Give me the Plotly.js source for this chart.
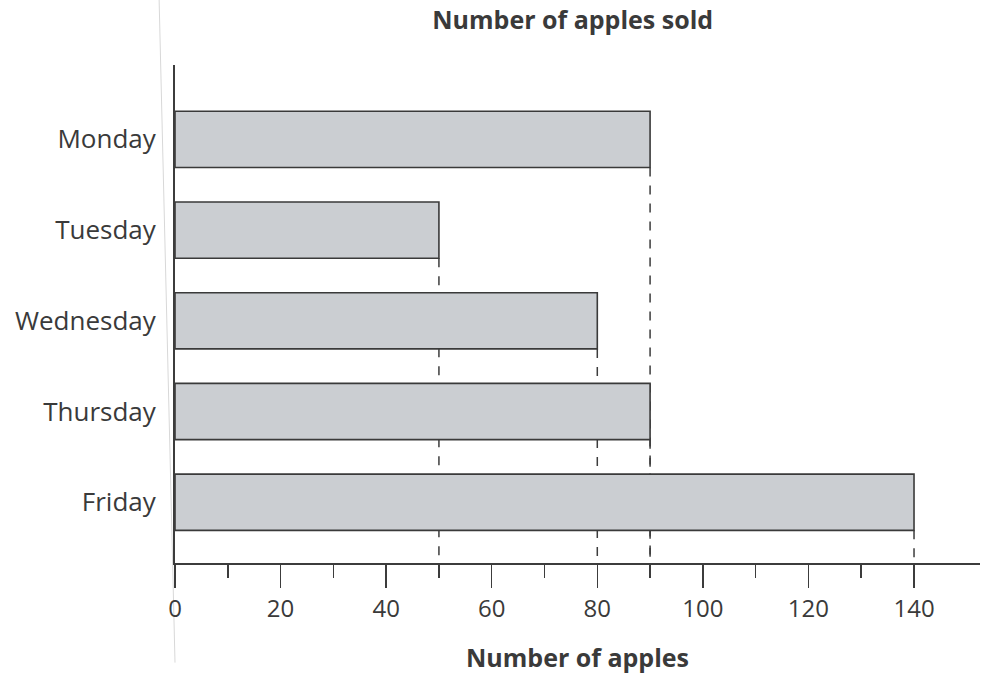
<!DOCTYPE html>
<html>
<head>
<meta charset="utf-8">
<script src="https://cdn.plot.ly/plotly-3.0.1.min.js"></script>
<style>html,body{margin:0;padding:0;background:#fff;}#chart{width:984px;height:675px;}</style>
</head>
<body>
<div id="chart"></div>
<script>
const days = ["Monday", "Tuesday", "Wednesday", "Thursday", "Friday"];
const applesSold = [90, 50, 80, 90, 140];
const xTickVals = [0, 20, 40, 60, 80, 100, 120, 140];
const xTickText = ["0", "20", "40", "60", "80", "100", "120", "140"];
const xMinorTickVals = [10, 30, 50, 70, 90, 110, 130];

const barWidth = 0.62;
const yBottom = 4.67;
const textColor = "#3a3a3a";
const lineColor = "#3c3c3c";

const shapes = applesSold.map((v, i) => ({
  type: "line", xref: "x", yref: "y",
  x0: v, x1: v, y0: i + barWidth / 2, y1: yBottom,
  line: { color: lineColor, width: 1.5, dash: "dash" },
  layer: "below"
}));
// faint page-edge line from the scan
shapes.push({ type: "line", xref: "paper", yref: "paper", x0: -0.02, x1: 0.0, y0: 1.15, y1: -0.2,
  line: { color: "#d8d8d8", width: 1 }, layer: "below" });

const trace = {
  type: "bar",
  orientation: "h",
  y: days,
  x: applesSold,
  width: barWidth,
  marker: { color: "#cbced2", line: { color: "#3a3a3a", width: 1.6 } },
  hoverinfo: "x+y"
};

const layout = {
  width: 984, height: 675,
  margin: { l: 175, r: 4, t: 65, b: 112 },
  paper_bgcolor: "#ffffff", plot_bgcolor: "#ffffff",
  font: { family: "Open Sans, sans-serif", color: textColor },
  showlegend: false,
  title: {
    text: "<b>Number of apples sold</b>",
    font: { size: 25, color: textColor },
    xref: "container", yref: "container",
    x: 0.582, y: 0.97, xanchor: "center", yanchor: "middle"
  },
  xaxis: {
    range: [0, 152.5],
    tickmode: "array", tickvals: xTickVals, ticktext: xTickText,
    ticks: "outside", ticklen: 23, tickwidth: 1.5, tickcolor: lineColor,
    minor: { tickmode: "array", tickvals: xMinorTickVals, ticks: "outside", ticklen: 13, tickwidth: 1.5, tickcolor: lineColor },
    showgrid: false, zeroline: false,
    showline: true, linecolor: lineColor, linewidth: 2,
    tickfont: { size: 24, color: textColor },
    title: { text: "<b>Number of apples</b>", font: { size: 25, color: textColor }, standoff: 27 }
  },
  yaxis: {
    type: "category",
    range: [yBottom, -0.82],
    showgrid: false, zeroline: false,
    showline: true, linecolor: lineColor, linewidth: 2,
    ticks: "", ticklabelstandoff: 12,
    tickfont: { size: 26, color: textColor }
  },
  shapes: shapes
};

Plotly.newPlot("chart", [trace], layout, { displayModeBar: false, staticPlot: true });
</script>
</body>
</html>
